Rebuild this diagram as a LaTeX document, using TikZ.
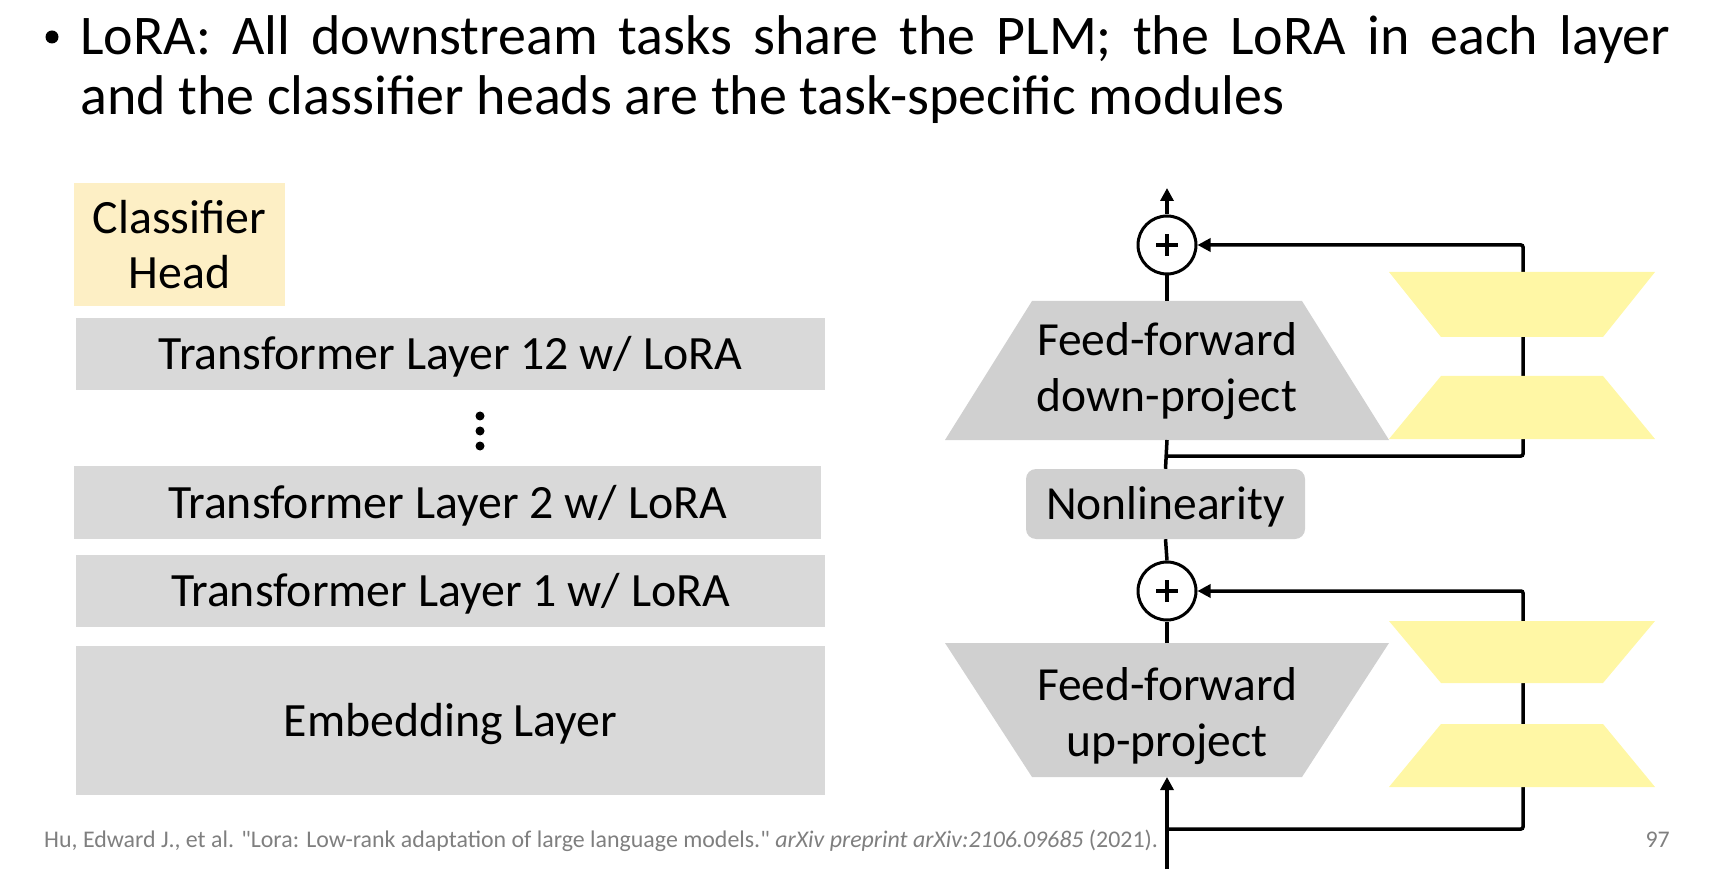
\documentclass[tikz,border=0pt]{standalone}
\usepackage{fontspec}
\setmainfont{Carlito}
\usetikzlibrary{arrows.meta}
\definecolor{layergray}{HTML}{D9D9D9}
\definecolor{ffgray}{HTML}{D0D0D0}
\definecolor{headyellow}{HTML}{FDEFC5}
\definecolor{lorayellow}{HTML}{FFF7A5}
\definecolor{citegray}{HTML}{7F7F7F}
\begin{document}
\begin{tikzpicture}[x=1pt,y=-1pt,
  layerbox/.style={fill=layergray, draw=none, inner sep=0pt, align=center,
    text height=31pt, text depth=0pt,
    font=\fontsize{47.8}{55}\selectfont},
  headbox/.style={fill=headyellow, draw=none, inner sep=0pt, align=center,
    font=\fontsize{47.8}{55}\selectfont},
  fftext/.style={inner sep=0pt, align=center, font=\fontsize{47.5}{56}\selectfont},
  nonlin/.style={fill=ffgray, draw=none, rounded corners=10pt, inner sep=0pt,
    text height=31pt, text depth=0pt,
    minimum width=279pt, minimum height=70pt, font=\fontsize{47.5}{56}\selectfont},
  plusnode/.style={circle, draw, line width=3pt, fill=white, minimum size=58pt, inner sep=0pt,
    path picture={\draw[line width=3.5pt] ([xshift=-11pt]path picture bounding box.center) -- ([xshift=11pt]path picture bounding box.center);
                  \draw[line width=3.5pt] ([yshift=-11pt]path picture bounding box.center) -- ([yshift=11pt]path picture bounding box.center);}},
  conn/.style={line width=3.5pt, rounded corners=2pt},
  arrowconn/.style={conn, -{Triangle[length=13pt,width=13pt]}},
  titlefont/.style={font=\fontsize{56}{60}\selectfont, inner sep=0pt},
  bulletdot/.style={circle, fill, minimum size=13pt, inner sep=0pt},
  citefont/.style={font=\fontsize{23.9}{27}\selectfont\addfontfeature{Ligatures=TeXOff}, text=citegray, inner sep=0pt}
]
\useasboundingbox (0,0) rectangle (1711,882);

% ---- title ----
\node[bulletdot] (bullet) at (52,37) {};
\node[titlefont, anchor=base west] (title1) at (80,55) {\makebox[1590pt][s]{LoRA: All downstream tasks share the PLM; the LoRA in each layer}};
\node[titlefont, anchor=base west] (title2) at (80,115) {and the classifier heads are the task-specific modules};

% ---- left stack ----
\node[headbox, minimum width=211pt, minimum height=123pt] (head) at (179.5,244.5) {Classifier\\Head};
\node[layerbox, minimum width=749pt, minimum height=72pt] (tl12) at (450.5,354) {Transformer Layer 12 w/ LoRA};
\node[layerbox, minimum width=747pt, minimum height=73pt] (tl2) at (447.5,502.5) {Transformer Layer 2 w/ LoRA};
\node[layerbox, minimum width=749pt, minimum height=72pt] (tl1) at (450.5,591) {Transformer Layer 1 w/ LoRA};
\node[layerbox, minimum width=749pt, minimum height=149pt] (emb) at (450.5,720.5) {Embedding Layer};
\fill (480,416) circle (4.5pt);
\fill (480,431) circle (4.5pt);
\fill (480,446) circle (4.5pt);

% ---- right: gray trapezoids ----
\fill[ffgray] (1032,301) -- (1302,301) -- (1389,440) -- (945,440) -- cycle;
\fill[ffgray] (945,643) -- (1389,643) -- (1302,777) -- (1032,777) -- cycle;
\node[fftext] (ffdown) at (1167,371) {Feed-forward\\down-project};
\node[fftext] (ffup) at (1167,716) {Feed-forward\\up-project};
\node[nonlin] (nl) at (1165.5,504) {Nonlinearity};

\coordinate (ddtop) at (1167,301);
\coordinate (ddbot) at (1167,440);
\coordinate (uptop) at (1167,643);
\coordinate (upbot) at (1167,777);
\coordinate (out) at (1167,188);
\coordinate (in) at (1167,869);
\coordinate (br1) at (1167,456);
\coordinate (br2) at (1167,829);
\coordinate (r1) at (1523,456);
\coordinate (r2) at (1523,829);

\node[plusnode] (plus1) at (1167,245) {};
\node[plusnode] (plus2) at (1167,591) {};

% ---- connectors ----
\draw[arrowconn] (in) -- (upbot);
\draw[arrowconn] (br2) -- (r2) -- (r2 |- plus2) -- (plus2.east);
\draw[conn] (uptop) -- (plus2.south);
\draw[conn] (plus2.north) -- (nl.south);
\draw[conn] (nl.north) -- (ddbot);
\draw[arrowconn] (br1) -- (r1) -- (r1 |- plus1) -- (plus1.east);
\draw[conn] (ddtop) -- (plus1.south);
\draw[arrowconn] (plus1.north) -- (out);

% ---- LoRA yellow trapezoids ----
\fill[lorayellow] (1389,272) -- (1655,272) -- (1603,337) -- (1441,337) -- cycle;
\fill[lorayellow] (1441,376) -- (1603,376) -- (1655,439) -- (1389,439) -- cycle;
\fill[lorayellow] (1389,621) -- (1655,621) -- (1603,683) -- (1441,683) -- cycle;
\fill[lorayellow] (1441,724) -- (1603,724) -- (1655,787) -- (1389,787) -- cycle;

% ---- footer ----
\node[citefont, anchor=base west] (cite) at (44,847) {Hu, Edward J., et al. "Lora: Low-rank adaptation of large language models." \textit{arXiv preprint arXiv:2106.09685} (2021).};
\node[citefont, anchor=base east] (pagenum) at (1670,847) {97};
\end{tikzpicture}
\end{document}
